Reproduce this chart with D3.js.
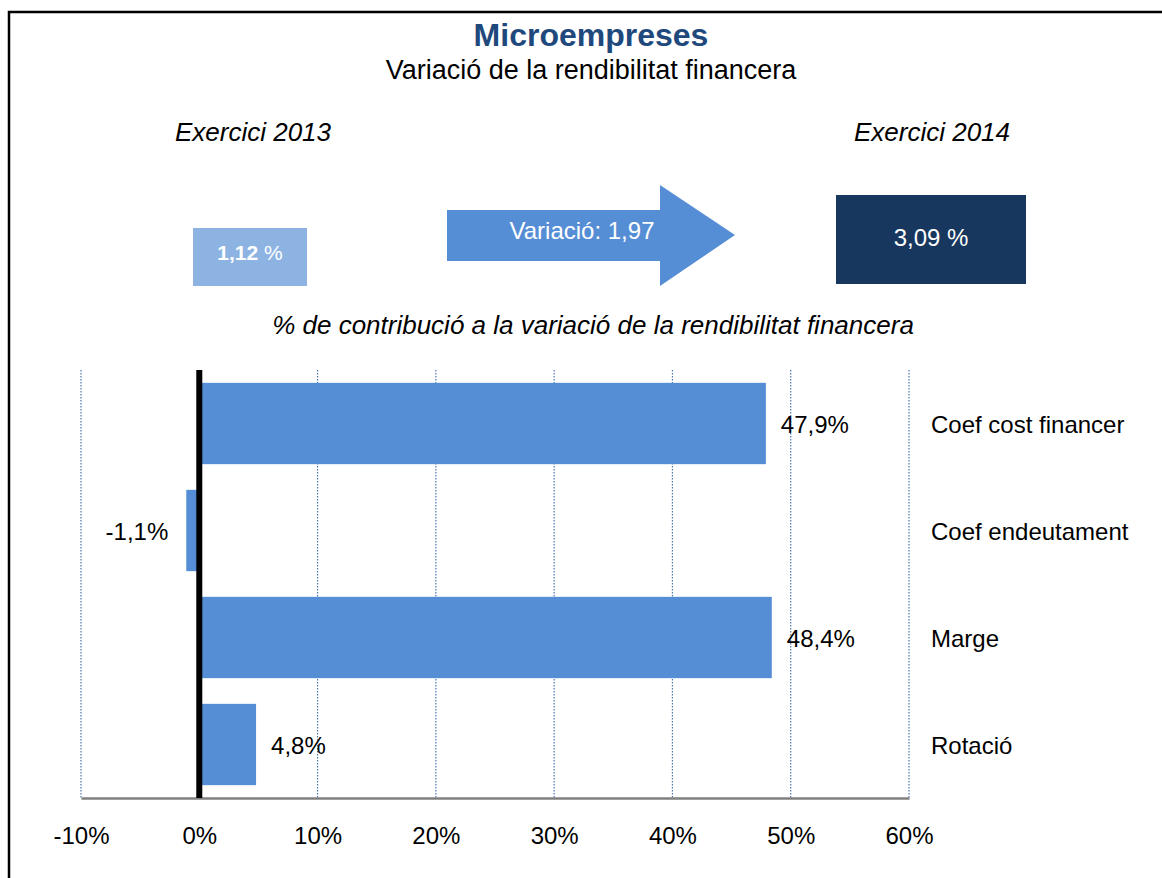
<!DOCTYPE html>
<html>
<head>
<meta charset="utf-8">
<script src="https://cdn.jsdelivr.net/npm/d3@7"></script>
<style>
  body { margin: 0; background: #fff; }
  svg { font-family: "Liberation Sans", Arial, sans-serif; }
</style>
</head>
<body>
<svg id="drawing_region"></svg>
<script>
// data
const categories = ['Coef cost financer', 'Coef endeutament', 'Marge', 'Rotació'];
const contributions = [47.9, -1.1, 48.4, 4.8];
const tickValues = [-10, 0, 10, 20, 30, 40, 50, 60];
const rate2013 = '1,12';
const rate2014 = '3,09 %';
const variation = 'Variació: 1,97';

const width = 1162, height = 878;
const svg = d3.select('#drawing_region')
    .attr('width', width)
    .attr('height', height);

// frame (only left and top edges fall inside the view)
svg.append('rect')
    .attr('x', 9).attr('y', 12)
    .attr('width', 1200).attr('height', 900)
    .attr('fill', 'none')
    .attr('stroke', '#000')
    .attr('stroke-width', 2.5);

// titles
svg.append('text')
    .attr('x', 591).attr('y', 46)
    .attr('text-anchor', 'middle')
    .attr('font-size', 32).attr('font-weight', 'bold')
    .attr('fill', '#1f497d')
    .text('Microempreses');
svg.append('text')
    .attr('x', 591).attr('y', 79)
    .attr('text-anchor', 'middle')
    .attr('font-size', 27)
    .text('Variació de la rendibilitat financera');

svg.append('text')
    .attr('x', 253).attr('y', 141)
    .attr('text-anchor', 'middle')
    .attr('font-size', 26).attr('font-style', 'italic')
    .text('Exercici 2013');
svg.append('text')
    .attr('x', 932).attr('y', 141)
    .attr('text-anchor', 'middle')
    .attr('font-size', 26).attr('font-style', 'italic')
    .text('Exercici 2014');

// 2013 box
svg.append('rect')
    .attr('x', 193).attr('y', 228)
    .attr('width', 114).attr('height', 58)
    .attr('fill', '#8db3e2');
const t13 = svg.append('text')
    .attr('x', 250).attr('y', 260)
    .attr('text-anchor', 'middle')
    .attr('font-size', 21)
    .attr('fill', '#fff');
t13.append('tspan').attr('font-weight', 'bold').text(rate2013);
t13.append('tspan').text(' %');

// arrow
svg.append('path')
    .attr('d', 'M447,210 L660,210 L660,185 L735,235 L660,286 L660,261 L447,261 Z')
    .attr('fill', '#558ed5');
svg.append('text')
    .attr('x', 582).attr('y', 239)
    .attr('text-anchor', 'middle')
    .attr('font-size', 24)
    .attr('fill', '#fff')
    .text(variation);

// 2014 box
svg.append('rect')
    .attr('x', 836).attr('y', 195)
    .attr('width', 190).attr('height', 89)
    .attr('fill', '#17375e');
svg.append('text')
    .attr('x', 931).attr('y', 246)
    .attr('text-anchor', 'middle')
    .attr('font-size', 24)
    .attr('fill', '#fff')
    .text(rate2014);

svg.append('text')
    .attr('x', 593).attr('y', 334)
    .attr('text-anchor', 'middle')
    .attr('font-size', 26).attr('font-style', 'italic')
    .text('% de contribució a la variació de la rendibilitat financera');

// bar chart
const plotLeft = 81, plotRight = 909, plotTop = 370, plotBottom = 798;
const xscale = d3.scaleLinear()
    .domain([-10, 60])
    .range([plotLeft, plotRight]);
const yscale = d3.scaleBand()
    .domain(categories)
    .range([plotTop, plotBottom])
    .paddingInner(0.24)
    .paddingOuter(0.12);

const chart = svg.append('g');

// dotted gridlines
chart.selectAll('line.grid')
    .data(tickValues)
    .enter()
    .append('line')
    .attr('class', 'grid')
    .attr('x1', d => xscale(d)).attr('x2', d => xscale(d))
    .attr('y1', plotTop).attr('y2', plotBottom)
    .attr('stroke', '#4a76b0')
    .attr('stroke-width', 1.2)
    .attr('stroke-dasharray', '1.5,1.5');

const bars = contributions.map((v, i) => ({ name: categories[i], value: v }));

chart.selectAll('rect.bar')
    .data(bars)
    .enter()
    .append('rect')
    .attr('class', 'bar')
    .attr('x', d => xscale(Math.min(0, d.value)))
    .attr('y', d => yscale(d.name))
    .attr('width', d => Math.abs(xscale(d.value) - xscale(0)))
    .attr('height', yscale.bandwidth())
    .attr('fill', '#558ed5');

// x axis
const xaxis = d3.axisBottom(xscale)
    .tickValues(tickValues)
    .tickSize(0)
    .tickPadding(29)
    .tickFormat(d => d + '%');
const xaxis_group = chart.append('g')
    .attr('transform', `translate(0, ${plotBottom})`)
    .call(xaxis);
xaxis_group.select('.domain')
    .attr('stroke', '#808080')
    .attr('stroke-width', 2.5);
xaxis_group.selectAll('text')
    .attr('font-family', '"Liberation Sans", Arial, sans-serif')
    .attr('font-size', 24)
    .attr('fill', '#000');

// zero line
chart.append('line')
    .attr('x1', xscale(0)).attr('x2', xscale(0))
    .attr('y1', plotTop).attr('y2', plotBottom)
    .attr('stroke', '#000')
    .attr('stroke-width', 6);

// value labels
const fmt = v => String(v).replace('.', ',') + '%';
chart.selectAll('text.val')
    .data(bars)
    .enter()
    .append('text')
    .attr('class', 'val')
    .attr('x', d => d.value < 0 ? xscale(d.value) - 18 : xscale(d.value) + 15)
    .attr('y', d => yscale(d.name) + yscale.bandwidth() / 2 + 9)
    .attr('text-anchor', d => d.value < 0 ? 'end' : 'start')
    .attr('font-size', 24)
    .text(d => fmt(d.value));

// category labels
chart.selectAll('text.cat')
    .data(categories)
    .enter()
    .append('text')
    .attr('class', 'cat')
    .attr('x', 931)
    .attr('y', d => yscale(d) + yscale.bandwidth() / 2 + 9)
    .attr('font-size', 24)
    .text(d => d);
</script>
</body>
</html>
